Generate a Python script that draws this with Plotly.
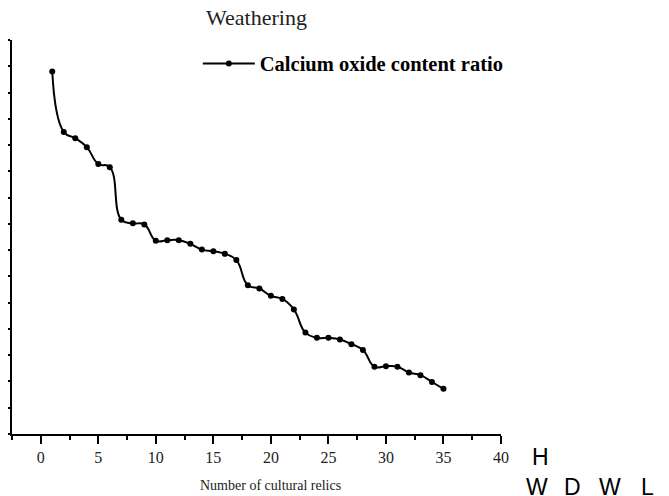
import plotly.graph_objects as go

relic_number = list(range(1, 36))
calcium_oxide_ratio = [64.0, 52.5, 51.3, 49.6, 46.4, 45.8, 35.8, 35.1, 34.9, 31.8,
                       31.9, 31.9, 31.2, 30.1, 29.8, 29.3, 28.1, 23.3, 22.7, 21.3,
                       20.7, 18.7, 14.3, 13.3, 13.3, 13.0, 12.1, 11.0, 7.8, 7.9,
                       7.8, 6.7, 6.2, 4.9, 3.6]
series_name = "Calcium oxide content ratio"
chart_title = "Weathering"
x_title = "Number of cultural relics"
x_tick_vals = [0, 5, 10, 15, 20, 25, 30, 35, 40]
x_tick_text = ["0", "5", "10", "15", "20", "25", "30", "35", "40"]
stray_labels = ["H", "W", "D", "W", "L"]
stray_x = [1.0812, 1.0736, 1.1472, 1.2229, 1.2986]
stray_y = [-0.058, -0.134, -0.134, -0.134, -0.134]

serif = "Liberation Serif, Times New Roman, serif"

# the page body has an 8px margin, so the figure is offset by 8px
W, H = 661, 488

fig = go.Figure()
fig.add_trace(go.Scatter(
    x=relic_number, y=calcium_oxide_ratio, name=series_name,
    mode="lines+markers",
    line=dict(color="black", width=2, shape="spline", smoothing=1.3),
    marker=dict(color="black", size=6, symbol="circle"),
))

fig.update_layout(
    width=W, height=H,
    margin=dict(l=4, r=168, t=32, b=62, autoexpand=False),
    paper_bgcolor="white", plot_bgcolor="white",
    title=dict(text=chart_title, x=0.5, xref="paper", xanchor="center",
               y=1 - 9 / H, yref="container", yanchor="middle",
               font=dict(family=serif, size=22, color="#222")),
    showlegend=True,
    legend=dict(x=0.38, y=0.94, xanchor="left", yanchor="middle",
                bgcolor="rgba(0,0,0,0)", borderwidth=0,
                font=dict(family=serif, size=20.5, color="black", weight="bold"),
                itemwidth=52),
    font=dict(family=serif, color="#222"),
)

fig.update_xaxes(
    range=[-2.5, 40], showgrid=False, zeroline=False, automargin=False,
    showline=True, linecolor="black", linewidth=2,
    tickmode="array", tickvals=x_tick_vals, ticktext=x_tick_text,
    ticks="outside", ticklen=8, tickwidth=2, tickcolor="black",
    tickfont=dict(family=serif, size=16, color="#222"),
    minor=dict(dtick=2.5, tick0=0, ticks="outside", ticklen=4, tickwidth=2, tickcolor="black"),
)
fig.update_yaxes(
    range=[-5, 70], showgrid=False, zeroline=False, automargin=False,
    showline=True, linecolor="black", linewidth=2,
    dtick=10, tick0=0, ticks="outside", ticklen=8, tickwidth=2, tickcolor="black",
    showticklabels=False,
    minor=dict(dtick=5, tick0=0, ticks="outside", ticklen=4, tickwidth=2, tickcolor="black"),
)

fig.add_annotation(text=x_title, x=20, xref="x", y=(434 - 485) / 394, yref="paper",
                   showarrow=False, xanchor="center", yanchor="middle",
                   font=dict(family=serif, size=14, color="#222"))

for lab, sx, sy in zip(stray_labels, stray_x, stray_y):
    fig.add_annotation(text=lab, x=sx, y=sy, xref="paper", yref="paper",
                       showarrow=False, xanchor="center", yanchor="middle",
                       font=dict(family="Liberation Sans, Arial, sans-serif", size=23, color="black"))

fig.write_html("out.html")
